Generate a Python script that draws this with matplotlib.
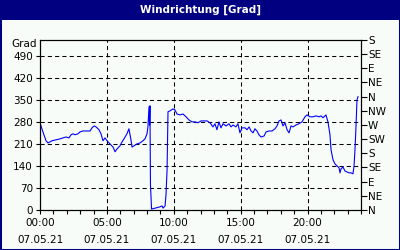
import matplotlib
matplotlib.use("Agg")
import matplotlib.pyplot as plt
from matplotlib.patches import Rectangle

title = "Windrichtung [Grad]"
y_label = "Grad"
hours = [0.05, 0.22, 0.45, 0.6, 0.9, 1.2, 1.5, 1.72, 1.94, 2.17, 2.32, 2.47, 2.62, 2.84, 2.99,
         3.21, 3.51, 3.74, 3.89, 4.04, 4.19, 4.41, 4.56, 4.71, 4.86, 5.01, 5.23, 5.46, 5.61,
         5.76, 5.98, 6.13, 6.28, 6.5, 6.65, 6.8, 6.88, 7.03, 7.25, 7.48, 7.7, 7.85, 8.0,
         8.07, 8.15, 8.19, 8.22, 8.26, 8.34, 8.6, 8.97, 9.12, 9.2, 9.35, 9.42, 9.5, 9.57,
         9.72, 9.94, 10.09, 10.24, 10.47, 10.69, 10.92, 11.14, 11.36, 11.59, 11.81, 12.04,
         12.26, 12.49, 12.71, 12.93, 13.08, 13.23, 13.38, 13.53, 13.68, 13.91, 14.13, 14.28,
         14.43, 14.65, 14.8, 14.95, 15.1, 15.33, 15.48, 15.63, 15.78, 15.93, 16.07, 16.22,
         16.37, 16.52, 16.75, 16.9, 17.12, 17.35, 17.57, 17.72, 17.87, 18.02, 18.17, 18.32,
         18.47, 18.62, 18.77, 18.92, 19.14, 19.36, 19.59, 19.81, 19.96, 20.19, 20.41, 20.64,
         20.86, 21.01, 21.16, 21.38, 21.53, 21.68, 21.76, 21.91, 22.06, 22.21, 22.36, 22.43,
         22.5, 22.65, 22.8, 22.95, 23.1, 23.25, 23.4, 23.48, 23.55, 23.63, 23.7, 23.78]
degrees = [270, 248, 220, 213, 220, 223, 226, 229, 232, 229, 239, 242, 239, 242, 248,
           251, 251, 251, 261, 267, 264, 255, 242, 220, 229, 220, 210, 200, 185,
           194, 204, 216, 226, 242, 258, 223, 200, 204, 210, 213, 220, 226, 242,
           264, 328, 270, 331, 80, 3, 6, 10, 13, 6, 13, 48, 127, 312,
           315, 321, 318, 305, 302, 305, 296, 286, 280, 280, 277, 283,
           283, 283, 277, 264, 274, 255, 280, 261, 274, 267, 274, 264,
           270, 264, 274, 245, 261, 261, 255, 264, 251, 245, 258, 251,
           239, 232, 235, 248, 251, 251, 258, 267, 283, 286, 267, 277,
           255, 245, 267, 264, 270, 274, 280, 296, 302, 296, 296, 299,
           296, 299, 293, 302, 280, 239, 191, 159, 146, 140, 134, 118,
           130, 137, 124, 121, 118, 118, 115, 140, 191, 270, 350, 360]
left_ticks = [0, 70, 140, 210, 280, 350, 420, 490]
right_ticks = [0, 45, 90, 135, 180, 225, 270, 315, 360, 405, 450, 495, 540]
right_labels = ["N", "NE", "E", "SE", "S", "SW", "W", "NW", "N", "NE", "E", "SE", "S"]
x_ticks = [0, 5, 10, 15, 20]
x_labels = ["00:00\n07.05.21", "05:00\n07.05.21", "10:00\n07.05.21",
            "15:00\n07.05.21", "20:00\n07.05.21"]

bg = "#F8FCF8"
navy = "#000080"
fs = 7.5

fig = plt.figure(figsize=(4, 2.5), dpi=100)
fig.patch.set_facecolor(bg)
# border and title bar
fig.add_artist(Rectangle((0, 0), 1, 1, transform=fig.transFigure, fill=False,
                         edgecolor=navy, linewidth=2.2))
fig.add_artist(Rectangle((0, 1 - 20 / 250), 1, 20 / 250, transform=fig.transFigure,
                         facecolor=navy, edgecolor="none"))
fig.text(0.5, 1 - 10 / 250, title, color="white", fontsize=fs, fontweight="bold",
         ha="center", va="center")

ax = fig.add_axes([40 / 400, 40 / 250, 321 / 400, 170 / 250])
ax.set_facecolor(bg)
ax.plot(hours, degrees, color="#0000FF", linewidth=0.8)
ax.set_xlim(0, 24)
ax.set_ylim(0, 540)
ax.set_yticks(left_ticks)
ax.set_xticks(x_ticks)
ax.set_xticklabels(x_labels, linespacing=1.85)
ax.set_xticks(range(0, 25), minor=True)
ax.tick_params(axis="both", which="both", direction="out", length=3, width=0.8,
               labelsize=fs, colors="black", pad=2)
ax.tick_params(axis="x", which="major", pad=3)
ax.grid(True, which="major", color="black", linewidth=0.75, linestyle=(0, (4, 3)))
for s in ax.spines.values():
    s.set_linewidth(0.8)
    s.set_color("black")
ax.text(-0.01, 1.0 - 4 / 170, y_label, transform=ax.transAxes, ha="right", va="center",
        fontsize=fs)

ax2 = ax.twinx()
ax2.set_ylim(0, 540)
ax2.set_yticks(right_ticks)
ax2.set_yticklabels(right_labels)
ax2.tick_params(axis="y", direction="out", length=4, width=0.8, labelsize=fs, pad=1)

fig.savefig("out.png", dpi=100, facecolor=bg)
